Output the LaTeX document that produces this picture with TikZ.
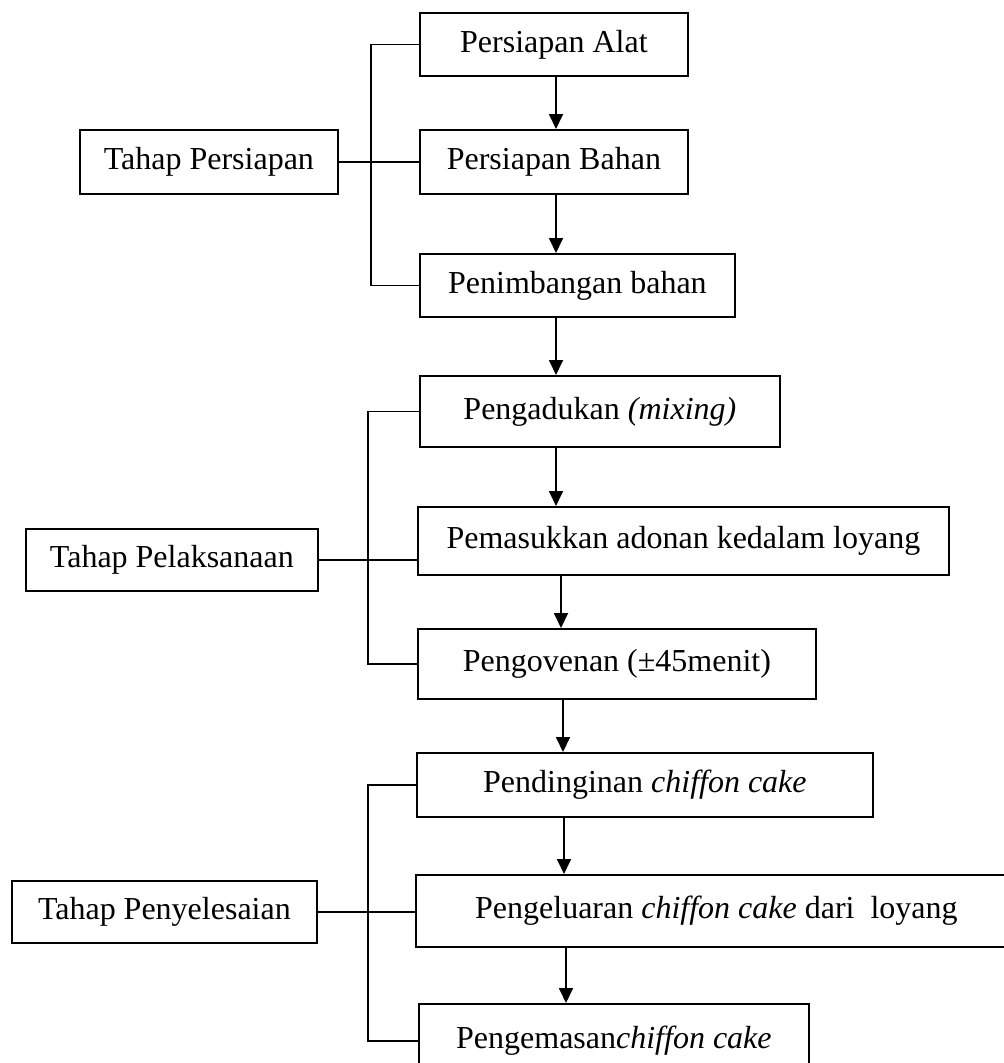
\documentclass[tikz,border=0pt]{standalone}
\usepackage{fontspec}
\setmainfont{Liberation Serif}
\usetikzlibrary{arrows.meta,positioning}
\tikzset{
  stepbox/.style={
    draw=black, line width=1.8pt, align=center, inner sep=0pt,
    anchor=north west, font=\fontsize{32}{38}\selectfont
  },
  arr/.style={-{Triangle[length=15pt,width=14pt]}, draw=black, line width=1.8pt},
  brk/.style={draw=black, line width=1.6pt}
}
\begin{document}
\begin{tikzpicture}[x=1pt, y=-1pt]
  \useasboundingbox (0,0) rectangle (1004,1063);
  \clip (0,0) rectangle (1004,1063);
  \node[stepbox, minimum width=268, minimum height=63] (alat) at (419,12) {Persiapan Alat};
  \node[stepbox, minimum width=268, minimum height=64] (bahan) at (419,129) {Persiapan Bahan};
  \node[stepbox, minimum width=315, minimum height=63] (timbang) at (419,253) {Penimbangan bahan};
  \node[stepbox, minimum width=258, minimum height=64] (tPersiapan) at (79,129) {Tahap Persiapan};
  \node[stepbox, minimum width=360, minimum height=71] (aduk) at (419,375) {Pengadukan \textit{(mixing)}};
  \node[stepbox, minimum width=531, minimum height=68] (masuk) at (417,506) {Pemasukkan adonan kedalam loyang};
  \node[stepbox, minimum width=398, minimum height=70] (oven) at (417,628) {Pengovenan (±45menit)};
  \node[stepbox, minimum width=292, minimum height=62] (tPelaksanaan) at (25,528) {Tahap Pelaksanaan};
  \node[stepbox, minimum width=456, minimum height=64] (dingin) at (416,752) {Pendinginan \textit{chiffon cake}};
  \node[stepbox, minimum width=601, minimum height=72] (keluar) at (415,874) {Pengeluaran \textit{chiffon cake} dari\ \ loyang};
  \node[stepbox, minimum width=390, minimum height=74] (kemas) at (418,1003) {Pengemasan\textit{chiffon cake}};
  \node[stepbox, minimum width=305, minimum height=62] (tPenyelesaian) at (11,880) {Tahap Penyelesaian};
  \coordinate (b1) at (371,0);
  \coordinate (b2) at (368,0);
  \coordinate (a1) at (556,0);
  \coordinate (a2) at (561,0);
  \coordinate (a3) at (563,0);
  \coordinate (a4) at (564,0);
  \coordinate (a5) at (566,0);
  \draw[brk] (alat.west) -- (alat.west -| b1) -- (timbang.west -| b1) -- (timbang.west);
  \draw[brk] (tPersiapan.east) -- (bahan.west);
  \draw[brk] (aduk.west) -- (aduk.west -| b2) -- (oven.west -| b2) -- (oven.west);
  \draw[brk] (tPelaksanaan.east) -- (tPelaksanaan.east -| masuk.west);
  \draw[brk] (dingin.west) -- (dingin.west -| b2) -- (kemas.west -| b2) -- (kemas.west);
  \draw[brk] (tPenyelesaian.east) -- (tPenyelesaian.east -| keluar.west);
  \draw[arr] (alat.south -| a1) -- (bahan.north -| a1);
  \draw[arr] (bahan.south -| a1) -- (timbang.north -| a1);
  \draw[arr] (timbang.south -| a1) -- (aduk.north -| a1);
  \draw[arr] (aduk.south -| a1) -- (masuk.north -| a1);
  \draw[arr] (masuk.south -| a2) -- (oven.north -| a2);
  \draw[arr] (oven.south -| a3) -- (dingin.north -| a3);
  \draw[arr] (dingin.south -| a4) -- (keluar.north -| a4);
  \draw[arr] (keluar.south -| a5) -- (kemas.north -| a5);
\end{tikzpicture}
\end{document}
